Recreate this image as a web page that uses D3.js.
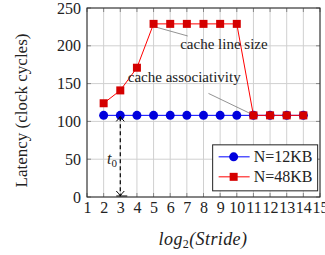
<!DOCTYPE html>
<html lang="en">
<head>
  <meta charset="UTF-8">
  <title>Latency vs stride</title>
  <style>
    body { margin: 0; padding: 0; background: #fff; }
    .grid line { stroke: #d0d0d0; stroke-width: 1; }
  </style>
</head>
<body>
  <div class="chart"></div>
  <script src="https://d3js.org/d3.v7.min.js"></script>
  <script>
    const strides = [2, 3, 4, 5, 6, 7, 8, 9, 10, 11, 12, 13, 14];
    const latency12 = [108, 108, 108, 108, 108, 108, 108, 108, 108, 108, 108, 108, 108];
    const latency48 = [124, 141, 171, 229, 229, 229, 229, 229, 229, 108, 108, 108, 108];
    const xTicks = [1, 2, 3, 4, 5, 6, 7, 8, 9, 10, 11, 12, 13, 14, 15];
    const yTicks = [0, 50, 100, 150, 200, 250];

    const FONT = "Liberation Serif";
    const W = 325, H = 255;
    const margin = { top: 8, right: 5, bottom: 58, left: 87 };
    const width = W - margin.left - margin.right;
    const height = H - margin.top - margin.bottom;

    const svg = d3.select(".chart").append("svg")
      .attr("width", W).attr("height", H);
    const g = svg.append("g")
      .attr("transform", `translate(${margin.left},${margin.top})`);

    const x = d3.scaleLinear().domain([1, 15]).range([0, width]);
    const y = d3.scaleLinear().domain([0, 250]).range([height, 0]);

    // grid
    const grid = g.append("g").attr("class", "grid");
    grid.selectAll(".vx").data(xTicks).join("line")
      .attr("x1", d => x(d)).attr("x2", d => x(d))
      .attr("y1", 0).attr("y2", height);
    grid.selectAll(".hy").data(yTicks).join("line")
      .attr("y1", d => y(d)).attr("y2", d => y(d))
      .attr("x1", 0).attr("x2", width);

    // inside ticks on all four sides
    const tk = g.append("g").attr("stroke", "#888").attr("stroke-width", 1);
    xTicks.forEach(d => {
      tk.append("line").attr("x1", x(d)).attr("x2", x(d)).attr("y1", height).attr("y2", height - 4);
      tk.append("line").attr("x1", x(d)).attr("x2", x(d)).attr("y1", 0).attr("y2", 4);
    });
    yTicks.forEach(d => {
      tk.append("line").attr("y1", y(d)).attr("y2", y(d)).attr("x1", 0).attr("x2", 4);
      tk.append("line").attr("y1", y(d)).attr("y2", y(d)).attr("x1", width).attr("x2", width - 4);
    });

    // tick labels via d3 axes (no lines)
    const xAxis = g.append("g")
      .attr("transform", `translate(0,${height})`)
      .call(d3.axisBottom(x).tickValues(xTicks).tickSize(0).tickPadding(5));
    const yAxis = g.append("g")
      .call(d3.axisLeft(y).tickValues(yTicks).tickSize(0).tickPadding(6));
    [xAxis, yAxis].forEach(a => {
      a.attr("font-family", null).attr("font-size", null);
      a.select(".domain").remove();
      a.selectAll("text").attr("fill", "#222")
        .attr("font-family", FONT).attr("font-size", 16);
    });

    // annotation pointer lines
    g.append("line")
      .attr("x1", x(5.1)).attr("y1", y(225))
      .attr("x2", x(7.05)).attr("y2", y(213))
      .attr("stroke", "#777").attr("stroke-width", 0.8);
    g.append("line")
      .attr("x1", x(8.3)).attr("y1", y(137))
      .attr("x2", x(10.85)).attr("y2", y(110))
      .attr("stroke", "#777").attr("stroke-width", 0.8);

    // series
    const line = d3.line().x(d => x(d[0])).y(d => y(d[1]));
    const d12 = strides.map((s, i) => [s, latency12[i]]);
    const d48 = strides.map((s, i) => [s, latency48[i]]);

    g.append("path").datum(d12).attr("d", line)
      .attr("fill", "none").attr("stroke", "#0000ff").attr("stroke-width", 1);
    g.selectAll(".c12").data(d12).join("circle")
      .attr("cx", d => x(d[0])).attr("cy", d => y(d[1])).attr("r", 4.5)
      .attr("fill", "#0000dd");

    g.append("path").datum(d48).attr("d", line)
      .attr("fill", "none").attr("stroke", "#ff0000").attr("stroke-width", 1);
    g.selectAll(".s48").data(d48).join("rect")
      .attr("x", d => x(d[0]) - 4).attr("y", d => y(d[1]) - 4)
      .attr("width", 8).attr("height", 8)
      .attr("fill", "#d40000");

    // annotation texts
    g.append("text").attr("x", x(6.6)).attr("y", y(196)).attr("fill", "#222")
      .attr("font-family", FONT).attr("font-size", 15).text("cache line size");
    g.append("text").attr("x", x(3.45)).attr("y", y(152)).attr("fill", "#222")
      .attr("font-family", FONT).attr("font-size", 15).text("cache associativity");

    // t0 dashed double arrow
    const ax = x(3);
    g.append("line").attr("x1", ax).attr("x2", ax)
      .attr("y1", y(108) + 2).attr("y2", y(0) - 2)
      .attr("stroke", "#000").attr("stroke-width", 1.2).attr("stroke-dasharray", "4,3");
    const head = (ty, dir) => {
      g.append("path")
        .attr("d", `M${ax - 4},${ty + dir * 5} Q${ax - 1},${ty + dir * 2} ${ax},${ty} Q${ax + 1},${ty + dir * 2} ${ax + 4},${ty + dir * 5}`)
        .attr("fill", "none").attr("stroke", "#000").attr("stroke-width", 1);
    };
    head(y(108) + 1, 1);
    head(y(0) - 1, -1);
    g.append("line").attr("x1", ax - 4).attr("x2", ax + 7)
      .attr("y1", y(0) - 1).attr("y2", y(0) - 1)
      .attr("stroke", "#000").attr("stroke-width", 1);
    const t0 = g.append("text").attr("x", x(2.2)).attr("y", y(50) + 5).attr("fill", "#222")
      .attr("font-family", FONT).attr("font-size", 16).attr("font-style", "italic").text("t");
    t0.append("tspan").attr("font-size", 11).attr("font-style", "normal").attr("dy", 3).text("0");

    // legend
    const lg = g.append("g").attr("transform", `translate(${x(8.55)},${y(69)})`);
    lg.append("rect").attr("width", 105).attr("height", 46)
      .attr("fill", "#fff").attr("stroke", "#222").attr("stroke-width", 1);
    const entries = [
      { label: "N=12KB", color: "#0000ff", fill: "#0000dd", shape: "circle" },
      { label: "N=48KB", color: "#ff0000", fill: "#d40000", shape: "square" }
    ];
    entries.forEach((e, i) => {
      const cy = 12 + i * 20;
      lg.append("line").attr("x1", 6).attr("x2", 37).attr("y1", cy).attr("y2", cy)
        .attr("stroke", e.color).attr("stroke-width", 1);
      if (e.shape === "circle") {
        lg.append("circle").attr("cx", 21).attr("cy", cy).attr("r", 4.5).attr("fill", e.fill);
      } else {
        lg.append("rect").attr("x", 17).attr("y", cy - 4).attr("width", 8).attr("height", 8).attr("fill", e.fill);
      }
      lg.append("text").attr("x", 41).attr("y", cy + 5).attr("fill", "#222")
        .attr("font-family", FONT).attr("font-size", 16).text(e.label);
    });

    // frame
    g.append("rect").attr("width", width).attr("height", height)
      .attr("fill", "none").attr("stroke", "#222").attr("stroke-width", 1);

    // axis titles
    const xt = svg.append("text").attr("x", margin.left + 116).attr("y", 245).attr("fill", "#222")
      .attr("font-family", FONT).attr("text-anchor", "middle").attr("font-size", 18)
      .attr("font-style", "italic").attr("letter-spacing", 0.4);
    xt.append("tspan").text("log");
    xt.append("tspan").attr("font-size", 12).attr("font-style", "normal").attr("dy", 3).text("2");
    xt.append("tspan").attr("dy", -3).text("(Stride)");

    svg.append("text").attr("fill", "#222").attr("font-family", FONT)
      .attr("transform", `translate(27,${margin.top + height / 2 + 8}) rotate(-90)`)
      .attr("text-anchor", "middle").attr("font-size", 17)
      .text("Latency (clock cycles)");
  </script>
</body>
</html>
